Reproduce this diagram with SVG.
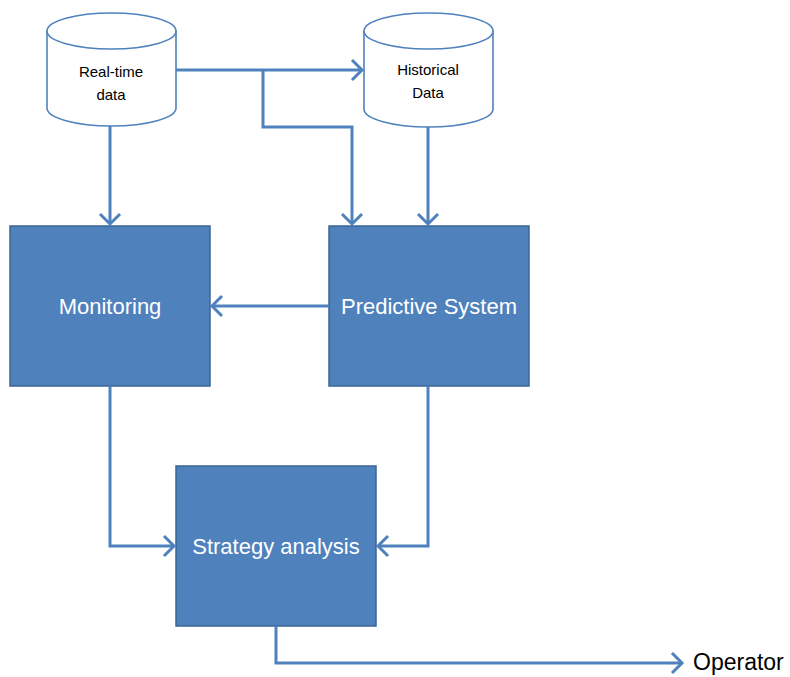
<svg xmlns="http://www.w3.org/2000/svg" width="790" height="677" viewBox="0 0 790 677">
  <style>
    .box { fill: #4F81BD; stroke: #3A6494; stroke-width: 1.5; }
    .cyl { fill: #FFFFFF; stroke: #4F81BD; stroke-width: 1.6; }
    .wire { fill: none; stroke: #4F81BD; stroke-width: 3; stroke-linejoin: miter; }
    .big { font-family: "Liberation Sans", Arial, sans-serif; font-size: 22px; fill: #FFFFFF; text-anchor: middle; }
    .small { font-family: "Liberation Sans", Arial, sans-serif; font-size: 15px; fill: #000000; text-anchor: middle; }
    .out { font-family: "Liberation Sans", Arial, sans-serif; font-size: 23px; fill: #000000; }
  </style>
  <defs>
    <marker id="arrow" markerUnits="userSpaceOnUse" markerWidth="16" markerHeight="24" refX="12" refY="12" orient="auto" viewBox="0 0 16 24">
      <path d="M2,2 L12,12 L2,22" fill="none" stroke="#4F81BD" stroke-width="3"/>
    </marker>
  </defs>

  <rect width="790" height="677" fill="#FFFFFF"/>

  <!-- data stores -->
  <g id="realtime">
    <path class="cyl" d="M47,31 L47,108 A64.5,18 0 0 0 176,108 L176,31"/>
    <ellipse class="cyl" cx="111.5" cy="31" rx="64.5" ry="18"/>
    <text class="small" x="111" y="77">Real-time</text>
    <text class="small" x="111" y="100">data</text>
  </g>
  <g id="historical">
    <path class="cyl" d="M364,31 L364,109 A64.5,18 0 0 0 493,109 L493,31"/>
    <ellipse class="cyl" cx="428.5" cy="31" rx="64.5" ry="18"/>
    <text class="small" x="428" y="75">Historical</text>
    <text class="small" x="428" y="98">Data</text>
  </g>

  <!-- processing blocks -->
  <g id="monitoring">
    <rect class="box" x="10" y="226" width="200" height="160"/>
    <text class="big" x="110" y="314">Monitoring</text>
  </g>
  <g id="predictive">
    <rect class="box" x="329" y="226" width="200" height="160"/>
    <text class="big" x="429" y="314">Predictive System</text>
  </g>
  <g id="strategy">
    <rect class="box" x="176" y="466" width="200" height="160"/>
    <text class="big" x="276" y="554">Strategy analysis</text>
  </g>
  <g id="operator">
    <text class="out" x="693" y="670">Operator</text>
  </g>

  <!-- connectors -->
  <g id="connectors">
    <path class="wire" d="M176,70 L362,70" marker-end="url(#arrow)"/>
    <path class="wire" d="M263,70 L263,127 L352,127 L352,224" marker-end="url(#arrow)"/>
    <path class="wire" d="M428,127 L428,224" marker-end="url(#arrow)"/>
    <path class="wire" d="M110,126 L110,224" marker-end="url(#arrow)"/>
    <path class="wire" d="M329,306 L212,306" marker-end="url(#arrow)"/>
    <path class="wire" d="M110,386 L110,546 L174,546" marker-end="url(#arrow)"/>
    <path class="wire" d="M428,386 L428,546 L378,546" marker-end="url(#arrow)"/>
    <path class="wire" d="M276,626 L276,663 L682,663" marker-end="url(#arrow)"/>
  </g>
</svg>
